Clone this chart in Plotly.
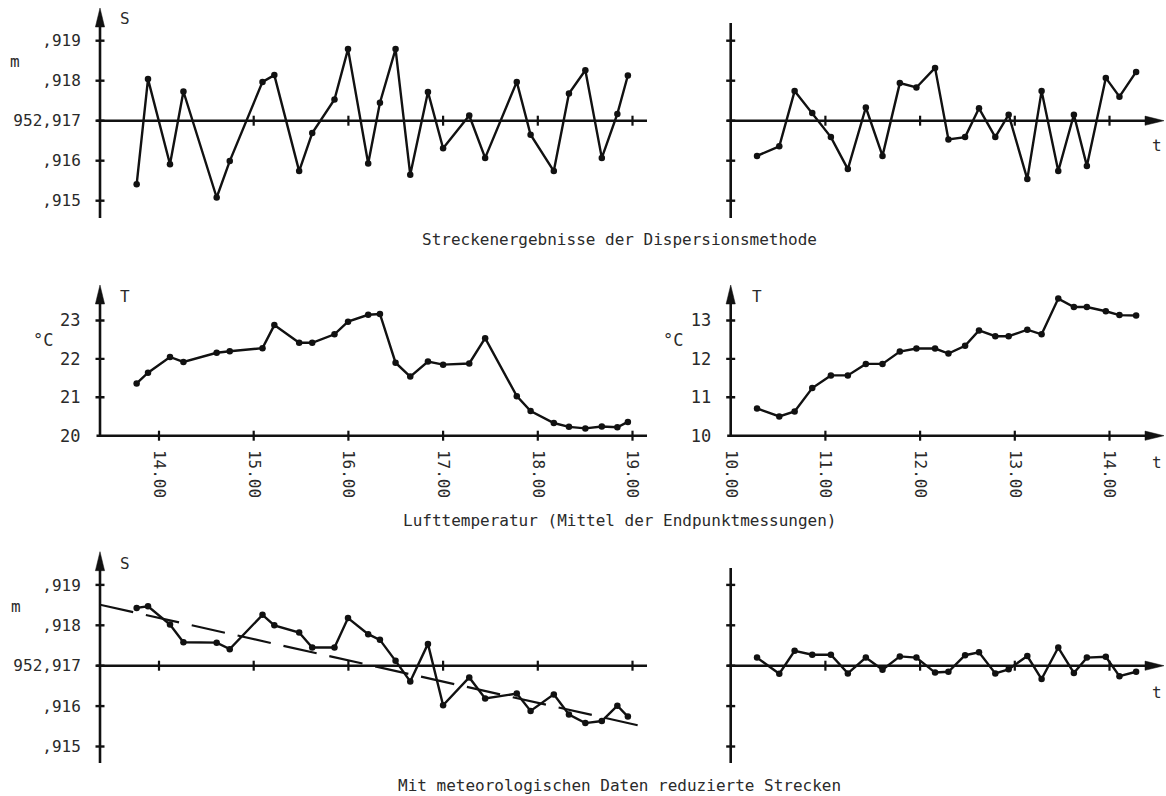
import plotly.graph_objects as go

W, H = 1166, 796

# ------------------------------------------------------------------ data
# observation times (decimal hours), left series (afternoon), right series (morning)
t_left = [13.764, 13.884, 14.116, 14.258, 14.609, 14.747, 15.093, 15.218, 15.480, 15.618,
          15.853, 15.996, 16.209, 16.333, 16.498, 16.653, 16.840, 17.000, 17.276, 17.444,
          17.778, 17.924, 18.169, 18.329, 18.502, 18.676, 18.840, 18.951]
t_right = [10.278, 10.513, 10.675, 10.861, 11.058, 11.237, 11.427, 11.603, 11.786, 11.961,
           12.158, 12.299, 12.475, 12.622, 12.794, 12.935, 13.132, 13.283, 13.459, 13.624,
           13.761, 13.961, 14.105, 14.281]

# distance S [m], dispersion method
S_disp_left = [952.91541, 952.91804, 952.91591, 952.91773, 952.91508, 952.91599, 952.91797,
               952.91814, 952.91574, 952.91669, 952.91753, 952.91879, 952.91593, 952.91745,
               952.91879, 952.91565, 952.91772, 952.91631, 952.91713, 952.91607, 952.91797,
               952.91665, 952.91574, 952.91768, 952.91826, 952.91607, 952.91717, 952.91813]
S_disp_right = [952.91612, 952.91636, 952.91774, 952.91719, 952.91659, 952.91579, 952.91733,
                952.91612, 952.91794, 952.91783, 952.91832, 952.91653, 952.91659, 952.91731,
                952.91659, 952.91715, 952.91554, 952.91774, 952.91574, 952.91715, 952.91587,
                952.91807, 952.91760, 952.91822]

# air temperature T [deg C] (mean of end point measurements)
T_left = [21.36, 21.64, 22.05, 21.92, 22.16, 22.20, 22.28, 22.88, 22.42, 22.42, 22.64, 22.97,
          23.15, 23.17, 21.90, 21.54, 21.93, 21.85, 21.88, 22.54, 21.03, 20.64, 20.33, 20.23,
          20.19, 20.24, 20.22, 20.36]
T_right = [10.71, 10.50, 10.63, 11.24, 11.57, 11.57, 11.87, 11.87, 12.19, 12.27, 12.27, 12.14,
           12.34, 12.74, 12.59, 12.59, 12.76, 12.64, 13.57, 13.35, 13.35, 13.24, 13.14, 13.13]

# distance S [m] reduced with meteorological data
S_red_left = [952.91843, 952.91847, 952.91802, 952.91758, 952.91757, 952.91741, 952.91826,
              952.91800, 952.91782, 952.91745, 952.91745, 952.91818, 952.91778, 952.91764,
              952.91712, 952.91661, 952.91754, 952.91602, 952.91671, 952.91619, 952.91631,
              952.91588, 952.91629, 952.91579, 952.91558, 952.91563, 952.91601, 952.91574]
S_red_right = [952.91720, 952.91680, 952.91737, 952.91727, 952.91727, 952.91681, 952.91720,
               952.91690, 952.91723, 952.91720, 952.91683, 952.91685, 952.91726, 952.91733,
               952.91681, 952.91691, 952.91724, 952.91667, 952.91745, 952.91682, 952.91720,
               952.91722, 952.91674, 952.91685]

# trend line of the reduced afternoon series
trend_t = [13.377, 19.067]
trend_S = [952.91851, 952.91552]

# ticks
S_ref = 952.917
S_tickvals = [952.919, 952.918, 952.917, 952.916, 952.915]
S_ticktext = [",919", ",918", "952,917", ",916", ",915"]
T_left_tickvals = [20, 21, 22, 23]
T_right_tickvals = [10, 11, 12, 13]
hours_left = [14, 15, 16, 17, 18, 19]
hours_right = [10, 11, 12, 13, 14]
hour_text_left = ["14.00", "15.00", "16.00", "17.00", "18.00", "19.00"]
hour_text_right = ["10.00", "11.00", "12.00", "13.00", "14.00"]

captions = ["Streckenergebnisse der Dispersionsmethode",
            "Lufttemperatur (Mittel der Endpunktmessungen)",
            "Mit meteorologischen Daten reduzierte Strecken"]

# ------------------------------------------------------------------ style / geometry
FONT = "DejaVu Sans Mono"
INK = "#111111"
TXT = "#2a2a2a"
LW_AX = 2.6
LW_DATA = 2.4
MS = 6.5

PXH = 94.7                 # pixels per hour
LAX, LEND = 100.0, 647.0   # left panels: y-axis x, x-axis right end
RAX, REND = 730.7, 1146.0  # right panels: y-axis x, arrow base
LH14 = 159.0               # pixel of 14.00 on left panels
ARROW_TIP_X = 1164.0


def X(px):
    return px / W


def Y(py):
    return 1 - py / H


def t_at_left(px):
    return 14 + (px - LH14) / PXH


def t_at_right(px):
    return 10 + (px - RAX) / PXH


rows = {
    "top": dict(zero=120.7, ppu=40.0, dom=(23.0, 218.0)),
    "mid": dict(zero=435.7, ppu=38.4, dom=(290.0, 435.7)),
    "bot": dict(zero=665.7, ppu=40.4, dom=(568.0, 763.0)),
}


def s_range(row):
    r = rows[row]
    top, bot = r["dom"]
    return [S_ref + (r["zero"] - bot) / r["ppu"] * 0.001,
            S_ref + (r["zero"] - top) / r["ppu"] * 0.001]


def t_range(row, base):
    r = rows[row]
    top, bot = r["dom"]
    return [base + (r["zero"] - bot) / r["ppu"], base + (r["zero"] - top) / r["ppu"]]


fig = go.Figure()

panels = [
    # id, side, row, x, y
    ("", "L", "top", t_left, S_disp_left),
    ("2", "R", "top", t_right, S_disp_right),
    ("3", "L", "mid", t_left, T_left),
    ("4", "R", "mid", t_right, T_right),
    ("5", "L", "bot", t_left, S_red_left),
    ("6", "R", "bot", t_right, S_red_right),
]

layout = dict(
    width=W, height=H, margin=dict(l=0, r=0, t=0, b=0),
    paper_bgcolor="white", plot_bgcolor="rgba(0,0,0,0)",
    showlegend=False, template="none",
    font=dict(family=FONT, size=16, color=TXT),
)

shapes = []
annotations = []


def line(x0, y0, x1, y1, xref="paper", yref="paper", w=LW_AX):
    shapes.append(dict(type="line", xref=xref, yref=yref, x0=x0, y0=y0, x1=x1, y1=y1,
                       line=dict(color=INK, width=w), layer="above"))


def tri(points):
    path = "M " + " L ".join(f"{X(a):.5f},{Y(b):.5f}" for a, b in points) + " Z"
    shapes.append(dict(type="path", xref="paper", yref="paper", path=path,
                       fillcolor=INK, line=dict(color=INK, width=0.5), layer="above"))


def text(px, py, s, size=16, xanchor="center"):
    annotations.append(dict(x=X(px), y=Y(py), xref="paper", yref="paper", text=s,
                            showarrow=False, xanchor=xanchor, yanchor="middle",
                            font=dict(family=FONT, size=size, color=TXT)))


for pid, side, row, xs, ys in panels:
    xa, ya = "xaxis" + pid, "yaxis" + pid
    xr, yr = "x" + pid, "y" + pid
    r = rows[row]
    top, bot = r["dom"]
    if side == "L":
        ax_px, end_px = LAX, LEND
        xrange = [t_at_left(LAX), t_at_left(LEND)]
    else:
        ax_px, end_px = RAX, REND
        xrange = [t_at_right(RAX), t_at_right(REND)]

    xaxis = dict(domain=[X(ax_px), X(end_px)], range=xrange, anchor=yr,
                 showgrid=False, zeroline=False, showline=False, automargin=False,
                 fixedrange=True)
    if row == "mid":
        xaxis.update(tickvals=hours_left if side == "L" else hours_right,
                     ticktext=hour_text_left if side == "L" else hour_text_right,
                     tickangle=90, ticks="outside", ticklen=10,
                     tickcolor="rgba(0,0,0,0)",
                     tickfont=dict(family=FONT, size=16, color=TXT))
    else:
        xaxis.update(showticklabels=False, ticks="")

    if row == "mid":
        base = 20 if side == "L" else 10
        yrange = t_range(row, base)
        yticks = T_left_tickvals if side == "L" else T_right_tickvals
        ytext = [str(v) for v in yticks]
        show_lbl = True
        ysize = 17
    else:
        yrange = s_range(row)
        yticks = S_tickvals
        ytext = S_ticktext
        show_lbl = side == "L"
        ysize = 16
    yaxis = dict(domain=[Y(bot), Y(top)], range=yrange, anchor=xr,
                 showgrid=False, zeroline=False, showline=False, automargin=False,
                 fixedrange=True, tickvals=yticks, ticktext=ytext,
                 showticklabels=show_lbl, ticks="outside", ticklen=15,
                 tickcolor="rgba(0,0,0,0)",
                 tickfont=dict(family=FONT, size=ysize, color=TXT))
    layout[xa] = xaxis
    layout[ya] = yaxis

    fig.add_trace(go.Scatter(x=xs, y=ys, xaxis=xr, yaxis=yr, mode="lines+markers",
                             line=dict(color=INK, width=LW_DATA),
                             marker=dict(size=MS, color=INK),
                             cliponaxis=False, hoverinfo="skip"))

    # ---- axis lines, ticks, arrows
    zero_py = r["zero"]
    has_y_arrow = (side == "L") or row == "mid"
    if row == "top":
        y_top_px = 8.0 if has_y_arrow else 23.0
        y_bot_px = 218.0
    elif row == "mid":
        y_top_px = 285.0
        y_bot_px = zero_py
    else:
        y_top_px = 551.7 if has_y_arrow else 568.0
        y_bot_px = 763.0
    # vertical axis
    line(X(ax_px), Y(y_bot_px), X(ax_px), Y(y_top_px + (17 if has_y_arrow else 0)))
    if has_y_arrow:
        tri([(ax_px, y_top_px), (ax_px - 4.6, y_top_px + 19), (ax_px + 4.6, y_top_px + 19)])
    # horizontal axis
    x_end = LEND if side == "L" else REND
    line(X(ax_px - 3.5), Y(zero_py), X(x_end + (2 if side == "R" else 0)), Y(zero_py))
    if side == "R":
        tri([(ARROW_TIP_X, zero_py), (ARROW_TIP_X - 19, zero_py - 4.6),
             (ARROW_TIP_X - 19, zero_py + 4.6)])
    # y ticks (crossing)
    for v in yticks:
        if row == "mid" and v == yticks[0]:
            continue
        line(X(ax_px - 4.5), v, X(ax_px + 4.5), v, yref=yr, w=2.4)
    # x ticks (crossing)
    if side == "L":
        hrs = hours_left[1:] if row == "top" else hours_left
    else:
        hrs = hours_right[1:]
    for hv in hrs:
        line(hv, Y(zero_py - 5), hv, Y(zero_py + 5), xref=xr, w=2.2)

# trend line of the reduced series
fig.add_trace(go.Scatter(x=trend_t, y=trend_S, xaxis="x5", yaxis="y5", mode="lines",
                         line=dict(color=INK, width=2.2, dash="34px,13px"),
                         cliponaxis=False, hoverinfo="skip"))

# ---- axis names and units
text(125, 18, "S")
text(15, 62, "m")
text(125, 296, "T")
text(757, 296, "T")
text(43, 340, "°C", size=17)
text(673, 340, "°C", size=17)
text(125, 563, "S")
text(16, 606, "m")
text(1157, 145, "t")
text(1157, 462, "t")
text(1157, 692, "t")

# ---- captions
text(619, 240, captions[0])
text(619, 520, captions[1])
text(619, 785, captions[2])

layout["shapes"] = shapes
layout["annotations"] = annotations
fig.update_layout(**layout)

fig.write_html(
    "out.html",
    config={"displayModeBar": False},
    post_script="document.body.style.margin='0';document.body.style.padding='0';"
                "document.body.style.overflow='hidden';",
)
